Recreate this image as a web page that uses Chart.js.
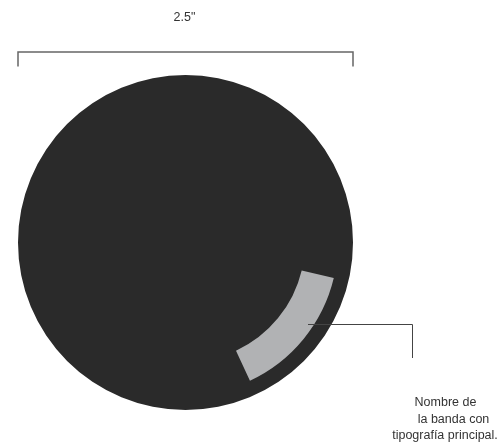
<!DOCTYPE html>
<html>
<head>
<meta charset="utf-8">
<script src="https://cdn.jsdelivr.net/npm/chart.js@4/dist/chart.umd.min.js"></script>
<style>
html,body{margin:0;padding:0;background:#fff;}
#wrap{position:relative;width:502px;height:444px;}
#wrap canvas{position:absolute;left:0;top:0;}
</style>
</head>
<body>
<div id="wrap"><canvas id="disc" width="502" height="444"></canvas><canvas id="band" width="502" height="444"></canvas></div>
<script>
// ---- data ----
const discLabels = ['Disco'];
const discDeg = [360];
const bandSegmentLabels = ['', 'Nombre de la banda', ''];
const bandRingDeg = [103.5, 51.5, 205];          // gap, grey band, gap (degrees from 12 o'clock)
const bandOuterRadius = 152.5;                   // px
const bandInnerRadius = 119.5;                   // px
const dimensionLabel = '2.5"';
const noteLines = ['Nombre de', 'la banda con', 'tipografía principal.'];

const DISC = '#2a2a2a';
const BAND = '#b1b2b4';
const PAD = { left: 18, right: 149, top: 75, bottom: 34 };
const FONT = '12.5px "Liberation Sans", Arial, sans-serif';

const annotate = {
  id: 'annotate',
  afterDatasetsDraw(chart) {
    const ctx = chart.ctx;
    const arc = chart.getDatasetMeta(0).data[0];
    const cx = arc.x, r = arc.outerRadius;
    ctx.save();
    ctx.strokeStyle = '#666';
    ctx.lineWidth = 1.5;
    ctx.beginPath();
    ctx.moveTo(cx - r, 66.5);
    ctx.lineTo(cx - r, 52);
    ctx.lineTo(cx + r, 52);
    ctx.lineTo(cx + r, 66.5);
    ctx.stroke();
    ctx.fillStyle = '#333';
    ctx.font = FONT;
    ctx.textAlign = 'center';
    ctx.textBaseline = 'alphabetic';
    ctx.fillText(dimensionLabel, cx - 1, 21);
    ctx.restore();
  }
};

const leader = {
  id: 'leader',
  afterDatasetsDraw(chart) {
    const ctx = chart.ctx;
    ctx.save();
    ctx.strokeStyle = '#444';
    ctx.lineWidth = 1;
    ctx.beginPath();
    ctx.moveTo(308, 324.5);
    ctx.lineTo(412.5, 324.5);
    ctx.lineTo(412.5, 358);
    ctx.stroke();
    ctx.fillStyle = '#333';
    ctx.font = FONT;
    ctx.textAlign = 'center';
    ctx.textBaseline = 'alphabetic';
    const xs = [445.5, 453.5, 445];
    const ys = [406, 422.5, 439];
    noteLines.forEach((t, i) => ctx.fillText(t, xs[i], ys[i]));
    ctx.restore();
  }
};

const common = {
  responsive: false,
  animation: false,
  rotation: 0,
  layout: { padding: PAD },
  plugins: { legend: { display: false }, tooltip: { enabled: false } },
  events: []
};

new Chart(document.getElementById('disc'), {
  type: 'pie',
  data: {
    labels: discLabels,
    datasets: [{ data: discDeg, backgroundColor: [DISC], borderWidth: 0 }]
  },
  options: Object.assign({}, common, { radius: 167.5 }),
  plugins: [annotate]
});

new Chart(document.getElementById('band'), {
  type: 'doughnut',
  data: {
    labels: bandSegmentLabels,
    datasets: [{ data: bandRingDeg,
      backgroundColor: ['rgba(0,0,0,0)', BAND, 'rgba(0,0,0,0)'], borderWidth: 0 }]
  },
  options: Object.assign({}, common, {
    radius: bandOuterRadius,
    cutout: (bandInnerRadius / bandOuterRadius * 100).toFixed(2) + '%'
  }),
  plugins: [leader]
});
</script>
</body>
</html>
